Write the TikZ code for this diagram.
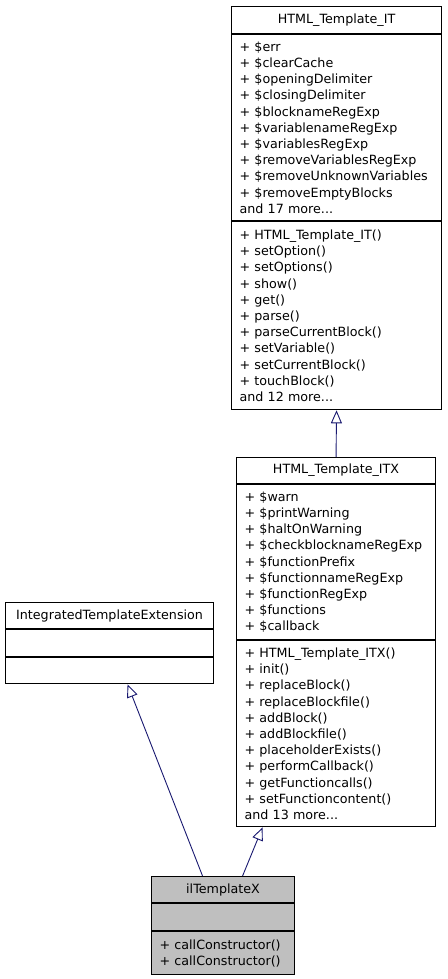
\documentclass[tikz,border=0pt]{standalone}
\usepackage{fontspec}
\setmainfont{DejaVu Sans}
\usetikzlibrary{arrows.meta,calc}
\definecolor{edgeblue}{RGB}{25,25,112}

\begin{document}
\begin{tikzpicture}[x=1pt,y=-1pt,
    box/.style={draw,line width=1.1pt,anchor=north west,inner xsep=8pt,inner ysep=0pt,
      font=\fontsize{12.7}{16.2}\selectfont},
    head/.style={box,align=center},
    body/.style={box,align=left},
    inherit/.style={edgeblue,line width=0.9pt,
      -{Triangle[open,length=13pt,width=11pt,fill=white]}}]
    \useasboundingbox (0,0) rectangle (447,979);

    % HTML_Template_IT
    \node[head,minimum width=210,minimum height=27] (it) at (231,6) {HTML\_Template\_IT};
    \node[body,text width=194pt,minimum height=186] (itattr) at (it.south west)
      {+ \$err\\+ \$clearCache\\+ \$openingDelimiter\\+ \$closingDelimiter\\
       + \$blocknameRegExp\\+ \$variablenameRegExp\\+ \$variablesRegExp\\
       + \$removeVariablesRegExp\\+ \$removeUnknownVariables\\+ \$removeEmptyBlocks\\
       and 17 more...};
    \node[body,text width=194pt,minimum height=188] (itmeth) at (itattr.south west)
      {+ HTML\_Template\_IT()\\+ setOption()\\+ setOptions()\\+ show()\\+ get()\\
       + parse()\\+ parseCurrentBlock()\\+ setVariable()\\+ setCurrentBlock()\\
       + touchBlock()\\and 12 more...};

    % HTML_Template_ITX
    \node[head,minimum width=199,minimum height=26] (itx) at (236,457) {HTML\_Template\_ITX};
    \node[body,text width=183pt,minimum height=155] (itxattr) at (itx.south west)
      {+ \$warn\\+ \$printWarning\\+ \$haltOnWarning\\+ \$checkblocknameRegExp\\
       + \$functionPrefix\\+ \$functionnameRegExp\\+ \$functionRegExp\\
       + \$functions\\+ \$callback};
    \node[body,text width=183pt,minimum height=186] (itxmeth) at (itxattr.south west)
      {+ HTML\_Template\_ITX()\\+ init()\\+ replaceBlock()\\+ replaceBlockfile()\\
       + addBlock()\\+ addBlockfile()\\+ placeholderExists()\\+ performCallback()\\
       + getFunctioncalls()\\+ setFunctioncontent()\\and 13 more...};

    % IntegratedTemplateExtension
    \node[head,minimum width=208,minimum height=26] (ite) at (5,602) {IntegratedTemplateExtension};
    \node[body,text width=192pt,minimum height=27] (iteattr) at (ite.south west) {};
    \node[body,text width=192pt,minimum height=26] (itemeth) at (iteattr.south west) {};

    % ilTemplateX
    \node[head,fill=black!25,minimum width=143,minimum height=26] (il) at (151,876) {ilTemplateX};
    \node[body,fill=black!25,text width=127pt,minimum height=27] (ilattr) at (il.south west) {};
    \node[body,fill=black!25,text width=127pt,minimum height=43] (ilmeth) at (ilattr.south west)
      {+ callConstructor()\\+ callConstructor()};

    % inheritance
    \draw[inherit] (itx.north) -- (itmeth.south);
    \draw[inherit] ($(il.north)+(19.5,0)$) -- ($(itxmeth.south)+(-73.5,0)$);
    \draw[inherit] ($(il.north)+(-20.5,0)$) -- ($(itemeth.south)+(18,0)$);
\end{tikzpicture}
\end{document}
